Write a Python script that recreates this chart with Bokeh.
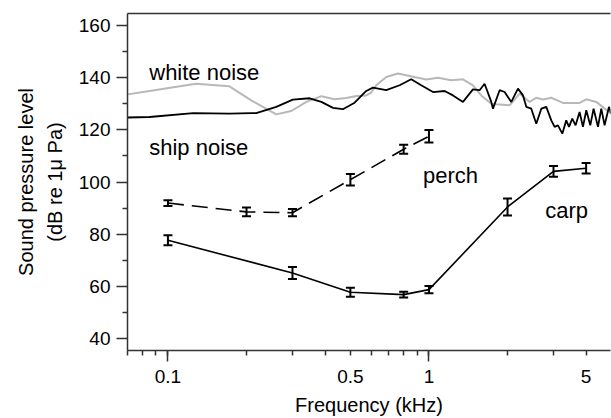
from bokeh.plotting import figure
from bokeh.models import (ColumnDataSource, Whisker, TeeHead, FixedTicker, LogAxis,
                          LinearAxis, Range1d, CustomJSTickFormatter)
from bokeh.core.properties import value
from bokeh.embed import file_html
from bokeh.resources import INLINE

FONT = "Liberation Sans"

# ---- data ----
white_f = [0.07, 0.085, 0.128, 0.172, 0.2085, 0.26, 0.297, 0.339, 0.387, 0.435, 0.482,
           0.527, 0.575, 0.601, 0.628, 0.686, 0.761, 0.843, 0.977, 1.083, 1.217, 1.35,
           1.474, 1.586, 1.733, 1.811, 2.036, 2.224, 2.429, 2.577, 2.734, 2.942, 3.262,
           3.776, 4.006, 4.375, 4.99]
white_db = [133.7, 135.0, 137.8, 136.8, 131.4, 126.0, 127.3, 130.8, 133.0, 131.8, 132.3,
            133.1, 133.3, 134.4, 137.2, 140.4, 141.7, 140.8, 139.4, 140.1, 139.1, 139.5,
            137.2, 133.3, 130.1, 129.9, 129.5, 134.0, 130.8, 132.4, 131.7, 132.4, 130.4,
            130.4, 131.8, 130.8, 126.3]

ship_f = [0.07, 0.085, 0.125, 0.172, 0.2085, 0.218, 0.26, 0.301, 0.349, 0.387, 0.429,
          0.468, 0.519, 0.575, 0.61, 0.686, 0.772, 0.855, 0.934, 1.036, 1.148, 1.236,
          1.35, 1.474, 1.563, 1.633, 1.733, 1.759, 1.865, 1.949, 2.067, 2.193, 2.292,
          2.36, 2.466, 2.577, 2.694, 2.815, 2.942, 3.029, 3.121, 3.242, 3.357, 3.439,
          3.54, 3.645, 3.776, 3.89, 4.006, 4.15, 4.273, 4.441, 4.573, 4.708, 4.893, 4.994]
ship_db = [124.8, 125.0, 126.5, 126.3, 126.5, 126.5, 128.9, 131.7, 132.2, 130.8, 128.5,
           128.0, 130.5, 135.0, 136.3, 135.3, 137.2, 139.5, 137.2, 134.6, 135.0, 133.3,
           130.8, 135.6, 135.3, 137.8, 130.8, 128.2, 135.3, 134.6, 130.8, 135.9, 133.3,
           128.9, 128.2, 122.4, 128.2, 128.9, 123.7, 121.2, 121.8, 118.6, 123.7, 121.2,
           124.4, 121.8, 126.9, 121.2, 127.6, 121.8, 128.2, 121.2, 128.2, 121.8, 128.9, 126.3]

carp_f = [0.1, 0.3, 0.5, 0.8, 1, 2, 3, 4]
carp_db = [77.6, 65.0, 57.6, 56.7, 58.6, 90.4, 104.1, 105.3]
carp_err = [1.9, 2.3, 1.7, 1.1, 1.4, 3.3, 2.1, 2.0]

perch_f = [0.1, 0.2, 0.3, 0.5, 0.8, 1]
perch_db = [91.9, 88.5, 88.2, 100.9, 112.6, 117.6]
perch_err = [1.1, 1.7, 1.4, 2.2, 1.7, 2.4]

note_text = ["white noise", "ship noise", "perch", "carp"]
note_f = [0.0848, 0.0848, 0.948, 2.79]
note_db = [142.3, 113.2, 102.6, 89.1]

y_ticks = [40, 60, 80, 100, 120, 140, 160]
y_minor = [50, 70, 90, 110, 130, 150]
# x axis: every tick short; long marks at decades; labels at selected ticks
x_ticks = [0.07, 0.08, 0.09, 0.1, 0.2, 0.3, 0.4, 0.5, 0.6, 0.7, 0.8, 0.9, 1, 2, 3, 4, 5]
x_decades = [0.1, 1]
x_label_pos = [0.1, 0.5, 1, 4]
x_label_text = ["0.1", "0.5", "1", "5"]

# ---- figure ----
p = figure(width=611, height=418, x_axis_type="log",
           x_range=Range1d(0.07, 4.96), y_range=Range1d(35.2, 164.8),
           output_backend="svg", toolbar_location=None,
           min_border_left=127, min_border_right=1, min_border_top=13,
           min_border_bottom=68)
p.grid.visible = False
p.outline_line_color = None
p.background_fill_color = "white"
p.border_fill_color = "white"

AX = "#333333"

xa = p.xaxis[0]
xa.ticker = FixedTicker(ticks=x_ticks, minor_ticks=x_decades)
xa.formatter = CustomJSTickFormatter(
    args=dict(pos=x_label_pos, txt=x_label_text),
    code="""
    for (let i = 0; i < pos.length; i++) {
        if (Math.abs(tick - pos[i]) < 1e-9) { return txt[i]; }
    }
    return "";
    """)
xa.axis_line_color = AX
xa.axis_line_width = 1.5
xa.major_tick_line_color = AX
xa.minor_tick_line_color = AX
xa.major_tick_line_width = 1.5
xa.minor_tick_line_width = 1.5
xa.major_tick_out = 5
xa.major_tick_in = 0
xa.minor_tick_out = 11
xa.minor_tick_in = 0
xa.major_label_text_font = FONT
xa.major_label_text_font_size = "19px"
xa.major_label_text_color = "black"
xa.major_label_standoff = 8
xa.axis_label = "Frequency (kHz)"
xa.axis_label_text_font = FONT
xa.axis_label_text_font_size = "20px"
xa.axis_label_text_font_style = "normal"
xa.axis_label_text_color = "black"
xa.axis_label_standoff = 8

ya = p.yaxis[0]
ya.ticker = FixedTicker(ticks=y_ticks, minor_ticks=y_minor)
ya.axis_line_color = AX
ya.axis_line_width = 1.5
ya.major_tick_line_color = AX
ya.minor_tick_line_color = AX
ya.major_tick_line_width = 1.5
ya.minor_tick_line_width = 1.5
ya.major_tick_out = 11
ya.major_tick_in = 0
ya.minor_tick_out = 5
ya.minor_tick_in = 0
ya.major_label_text_font = FONT
ya.major_label_text_font_size = "19px"
ya.major_label_text_color = "black"
ya.major_label_standoff = 6
ya.axis_label = "(dB re 1\u03bc Pa)"
ya.axis_label_text_font = FONT
ya.axis_label_text_font_size = "20px"
ya.axis_label_text_font_style = "normal"
ya.axis_label_text_color = "black"
ya.axis_label_standoff = 10

ya2 = LinearAxis(ticker=FixedTicker(ticks=[]), axis_line_color=None,
                 major_tick_line_color=None, minor_tick_line_color=None,
                 major_label_text_font_size="0px",
                 axis_label="Sound pressure level", axis_label_text_font=FONT,
                 axis_label_text_font_size="20px", axis_label_text_font_style="normal",
                 axis_label_text_color="black", axis_label_standoff=4)
p.add_layout(ya2, "left")

top = LogAxis(ticker=FixedTicker(ticks=[]), axis_line_color=AX, axis_line_width=1.5,
              major_tick_line_color=None, minor_tick_line_color=None,
              major_label_text_font_size="0px")
p.add_layout(top, "above")

# ---- noise curves ----
p.line(white_f, white_db, line_color="#b8b8b8", line_width=2)
p.line(ship_f, ship_db, line_color="black", line_width=1.8)

# ---- audiograms ----
p.line(carp_f, carp_db, line_color="black", line_width=1.6)
p.line(perch_f, perch_db, line_color="black", line_width=1.6, line_dash="16 8")

for fs, ds, es in ((carp_f, carp_db, carp_err), (perch_f, perch_db, perch_err)):
    src = ColumnDataSource(dict(f=fs, lo=[d - e for d, e in zip(ds, es)],
                                up=[d + e for d, e in zip(ds, es)]))
    w = Whisker(source=src, base="f", lower="lo", upper="up", dimension="height",
                line_color="black", line_width=2,
                upper_head=TeeHead(size=9, line_width=2, line_color="black"),
                lower_head=TeeHead(size=9, line_width=2, line_color="black"))
    p.add_layout(w)

# ---- annotations ----
p.text(x=note_f, y=note_db, text=note_text, text_font=value(FONT),
       text_font_size=value("22px"), text_color="black",
       text_align="left", text_baseline="alphabetic")

open("out.html", "w").write(file_html(p, INLINE))
